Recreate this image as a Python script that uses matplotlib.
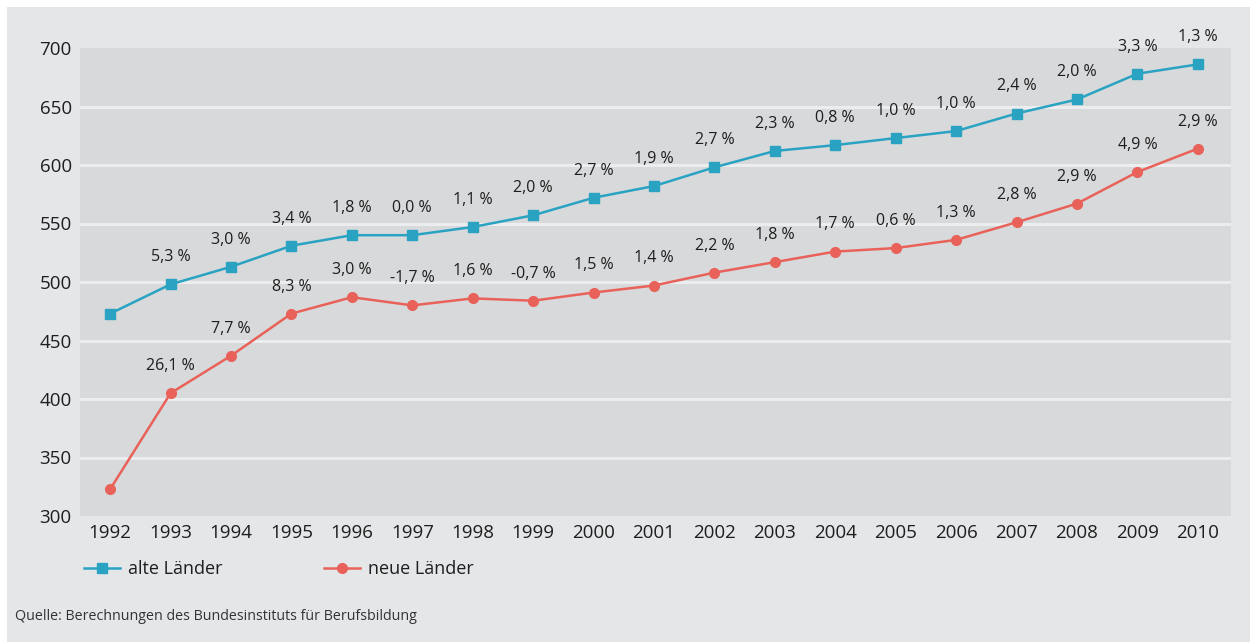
import matplotlib
matplotlib.use("Agg")
import matplotlib.pyplot as plt
from matplotlib.patches import Rectangle

# Jahre und Werte
jahre = list(range(1992, 2011))
alte = [473, 498, 513, 531, 540, 540, 547, 557, 572, 582, 598, 612, 617, 623, 629, 644, 656, 678, 686]
neue = [323, 405, 437, 473, 487, 480, 486, 484, 491, 497, 508, 517, 526, 529, 536, 551, 567, 594, 614]
alte_pct = ["", "5,3 %", "3,0 %", "3,4 %", "1,8 %", "0,0 %", "1,1 %", "2,0 %", "2,7 %", "1,9 %",
            "2,7 %", "2,3 %", "0,8 %", "1,0 %", "1,0 %", "2,4 %", "2,0 %", "3,3 %", "1,3 %"]
neue_pct = ["", "26,1 %", "7,7 %", "8,3 %", "3,0 %", "-1,7 %", "1,6 %", "-0,7 %", "1,5 %", "1,4 %",
            "2,2 %", "1,8 %", "1,7 %", "0,6 %", "1,3 %", "2,8 %", "2,9 %", "4,9 %", "2,9 %"]
yticks = [300, 350, 400, 450, 500, 550, 600, 650, 700]

plt.rcParams['font.family'] = ['Open Sans', 'DejaVu Sans']
blau = '#2aa3c3'
rot = '#e8625a'
txt = '#1e1e1e'

fig = plt.figure(figsize=(12.5, 6.42), dpi=100)
fig.patch.set_facecolor('white')
# grauer Hintergrund
bg = Rectangle((7 / 1250, 0), 1, 1 - 7 / 642, transform=fig.transFigure,
               facecolor='#e5e6e8', edgecolor='none', zorder=-10)
fig.add_artist(bg)

ax = fig.add_axes([80 / 1250, 1 - 516 / 642, 1151 / 1250, 468 / 642])
ax.set_facecolor('#d8d9db')
for s in ax.spines.values():
    s.set_visible(False)

ax.set_xlim(1991.5, 2010.55)
ax.set_ylim(300, 700)
ax.set_yticks(yticks)
ax.set_xticks(jahre)
ax.tick_params(length=0, labelsize=13.5, labelcolor=txt)
ax.tick_params(axis='y', pad=6)
ax.tick_params(axis='x', pad=6)
for y in yticks[1:-1]:
    ax.axhline(y, color='#ecedee', lw=2.2, zorder=1)

l1, = ax.plot(jahre, alte, color=blau, lw=1.8, marker='s', ms=7.5, zorder=3, label='alte Länder')
l2, = ax.plot(jahre, neue, color=rot, lw=1.8, marker='o', ms=7, zorder=3, label='neue Länder')

for x, y, t in zip(jahre, alte, alte_pct):
    if t:
        ax.annotate(t, (x, y), xytext=(0, 19.5), textcoords='offset points',
                    ha='center', va='center', fontsize=11.5, color=txt)
for x, y, t in zip(jahre, neue, neue_pct):
    if t:
        ax.annotate(t, (x, y), xytext=(0, 19.5), textcoords='offset points',
                    ha='center', va='center', fontsize=11.5, color=txt)

fig.legend(handles=[l1, l2], loc='center left', bbox_to_anchor=(68 / 1250, 1 - 569 / 642),
           ncol=2, frameon=False, fontsize=13, handlelength=2.0, columnspacing=5.6,
           handletextpad=0.45, labelcolor=txt)

fig.text(15 / 1250, 1 - 616 / 642, 'Quelle: Berechnungen des Bundesinstituts für Berufsbildung',
         fontsize=10.3, color='#333333', va='center', ha='left')

fig.savefig('out.png', dpi=100)
